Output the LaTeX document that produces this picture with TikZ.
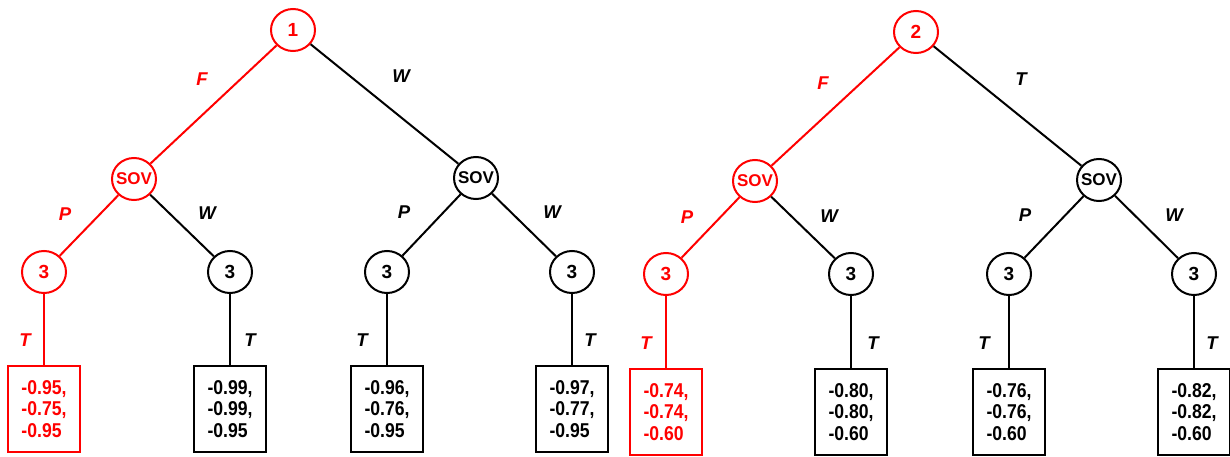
\documentclass[tikz,border=0pt]{standalone}
\usepackage{fontspec}
\setmainfont{Liberation Sans}
\newfontfamily\narrowfont[FakeStretch=0.88]{Liberation Sans}
\usetikzlibrary{shapes.geometric}
\begin{document}
\begin{tikzpicture}[x=1pt,y=-1pt,
  every node/.style={font=\fontsize{19}{21.5}\selectfont\bfseries},
  st/.style={draw, line width=2pt, ellipse, inner sep=0pt, minimum width=44pt, minimum height=42pt},
  sov/.style={font=\fontsize{17}{20}\selectfont\bfseries},
  leaf/.style={draw, line width=2pt, rectangle, minimum width=72pt, minimum height=86pt, align=left, inner sep=0pt,
    font=\narrowfont\fontsize{20}{21.5}\selectfont\bfseries},
  lbl/.style={font=\fontsize{18.5}{21}\selectfont\bfseries\itshape},
  conn/.style={line width=2pt}
]
\useasboundingbox (0,0) rectangle (1230,457);
% ---------- left tree ----------
\node[st, red] (r1) at (293,30) {1};
\node[st, sov, red] (s1) at (134,179) {\makebox[0pt]{SOV}};
\node[st, sov] (s2) at (476,178) {\makebox[0pt]{SOV}};
\node[st, red] (c1) at (44,272) {3};
\node[st] (c2) at (230,272) {3};
\node[st] (c3) at (387,272) {3};
\node[st] (c4) at (572,272) {3};
\node[leaf, red] (b1) at (44,409) {-0.95,\\-0.75,\\-0.95};
\node[leaf] (b2) at (230,409) {-0.99,\\-0.99,\\-0.95};
\node[leaf] (b3) at (387,409) {-0.96,\\-0.76,\\-0.95};
\node[leaf] (b4) at (572,409) {-0.97,\\-0.77,\\-0.95};
\draw[conn, red] (r1) -- (s1);
\draw[conn] (r1) -- (s2);
\draw[conn, red] (s1) -- (c1);
\draw[conn] (s1) -- (c2);
\draw[conn] (s2) -- (c3);
\draw[conn] (s2) -- (c4);
\draw[conn, red] (c1) -- (b1);
\draw[conn] (c2) -- (b2);
\draw[conn] (c3) -- (b3);
\draw[conn] (c4) -- (b4);
\node[lbl, red] (l1) at (202,79) {F};
\node[lbl] (l2) at (401,76) {W};
\node[lbl, red] (l3) at (65,214) {P};
\node[lbl] (l4) at (207,213) {W};
\node[lbl] (l5) at (404,212) {P};
\node[lbl] (l6) at (552,212) {W};
\node[lbl, red] (l7) at (25,340) {T};
\node[lbl] (l8) at (250,340) {T};
\node[lbl] (l9) at (362,340) {T};
\node[lbl] (l10) at (590,340) {T};
% ---------- right tree ----------
\node[st, red] (r2) at (916,32) {2};
\node[st, sov, red] (s3) at (755,181) {\makebox[0pt]{SOV}};
\node[st, sov] (s4) at (1099,180) {\makebox[0pt]{SOV}};
\node[st, red] (c5) at (666,274) {3};
\node[st] (c6) at (851,274) {3};
\node[st] (c7) at (1009,274) {3};
\node[st] (c8) at (1194,274) {3};
\node[leaf, red] (b5) at (666,412) {-0.74,\\-0.74,\\-0.60};
\node[leaf] (b6) at (851,412) {-0.80,\\-0.80,\\-0.60};
\node[leaf] (b7) at (1009,412) {-0.76,\\-0.76,\\-0.60};
\node[leaf] (b8) at (1194,412) {-0.82,\\-0.82,\\-0.60};
\draw[conn, red] (r2) -- (s3);
\draw[conn] (r2) -- (s4);
\draw[conn, red] (s3) -- (c5);
\draw[conn] (s3) -- (c6);
\draw[conn] (s4) -- (c7);
\draw[conn] (s4) -- (c8);
\draw[conn, red] (c5) -- (b5);
\draw[conn] (c6) -- (b6);
\draw[conn] (c7) -- (b7);
\draw[conn] (c8) -- (b8);
\node[lbl, red] (m1) at (823,83) {F};
\node[lbl] (m2) at (1021,79) {T};
\node[lbl, red] (m3) at (687,217) {P};
\node[lbl] (m4) at (829,216) {W};
\node[lbl] (m5) at (1025,215) {P};
\node[lbl] (m6) at (1174,215) {W};
\node[lbl, red] (m7) at (646,343) {T};
\node[lbl] (m8) at (873,343) {T};
\node[lbl] (m9) at (984,343) {T};
\node[lbl] (m10) at (1212,343) {T};
\end{tikzpicture}
\end{document}
